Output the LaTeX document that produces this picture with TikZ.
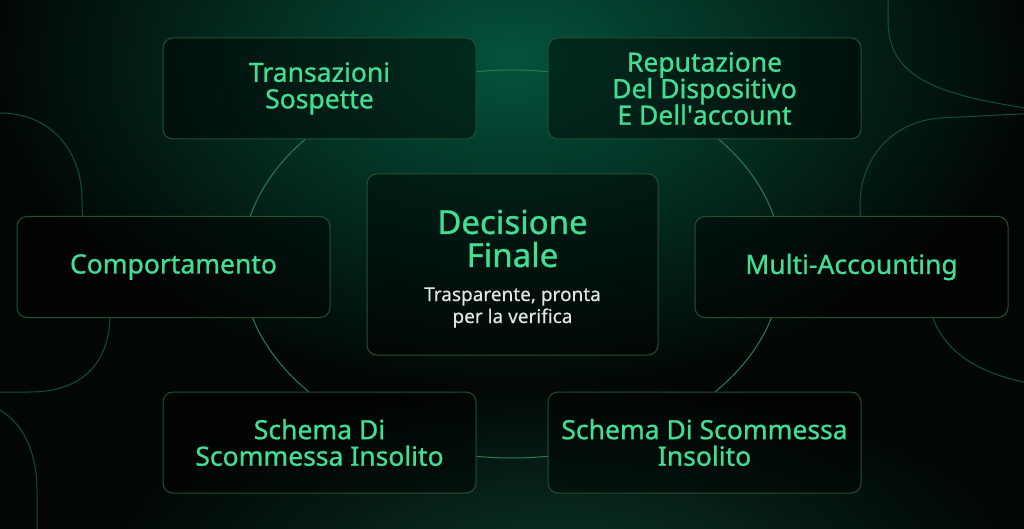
\documentclass[tikz,border=0pt]{standalone}
\usepackage{fontspec}
\setmainfont{Noto Sans}
\newfontfamily\cardfont{Noto Sans}[FakeBold=0.9]
\newfontfamily\subfont{Noto Sans}[FakeBold=0.3]
\usetikzlibrary{positioning,fadings}

\definecolor{bgdark}{HTML}{020705}
\definecolor{glowtop}{HTML}{05533D}
\definecolor{glowlow}{HTML}{0A3326}
\definecolor{mint}{HTML}{41DE93}
\definecolor{edge}{HTML}{22522F}
\definecolor{ring}{HTML}{2B7D52}
\definecolor{blob}{HTML}{145C40}
\definecolor{subtext}{HTML}{E4E6E5}
\tikzfading[name=glowfade, inner color=transparent!0, outer color=transparent!100]

\begin{document}
\begin{tikzpicture}[x=1pt, y=-1pt,
    card/.style = {draw=edge, line width=1pt, rounded corners=10pt, fill=black, fill opacity=0.45, text opacity=1,
        minimum width=313pt, minimum height=101pt, inner sep=0pt, align=center, text=mint,
        font=\cardfont\fontsize{26.5}{26.5}\selectfont},
    core/.style = {card, minimum width=291pt, minimum height=181pt},
    head/.style = {align=center, text=mint, inner sep=0pt, font=\cardfont\fontsize{33}{33}\selectfont},
    sub/.style = {align=center, text=subtext, inner sep=0pt, font=\subfont\fontsize{19}{22}\selectfont},
    blob/.style = {draw=blob, line width=1pt, opacity=0.85}]

    %Background and glow
    \useasboundingbox (0,0) rectangle (1024,529);
    \fill[bgdark] (0,0) rectangle (1024,529);
    \fill[glowtop, path fading=glowfade] (512,60) ellipse (520 and 330);
    \fill[glowlow, path fading=glowfade] (560,560) ellipse (450 and 180);

    %Centre card
    \node[core] (dec) at (512.5,264.5) {};
    \node[head] (dech) at ([yshift=26pt]dec.center) {Decisione\\Finale};
    \node[sub] (decs) at ([yshift=-43pt]dec.center) {Trasparente, pronta\\per la verifica};

    %Outer cards
    \node[card] (tr) at (319.5,88.5) {Transazioni\\Sospette};
    \node[card] (rep) [node distance=385pt, right of=tr] {Reputazione\\Del Dispositivo\\E Dell\textquotesingle account};
    \node[card] (comp) at (173.5,267) {Comportamento};
    \node[card] (multi) [node distance=678pt, right of=comp] {Multi-Accounting};
    \node[card] (schl) [node distance=354pt, below of=tr] {Schema Di\\Scommessa Insolito};
    \node[card] (schr) [node distance=385pt, right of=schl] {Schema Di Scommessa\\Insolito};

    %Ring and side shapes, hidden behind the cards
    \begin{scope}
        \clip (0,0) -- (1024,0) -- (1024,529) -- (0,529) -- cycle
            \foreach \b in {tr,rep,comp,dec,multi,schl,schr} {(\b.north west) -- (\b.south west) -- (\b.south east) -- (\b.north east) -- cycle};
        \draw[ring, line width=1pt] (512,264) ellipse (270 and 194); %Create ring
        \draw[blob] (-20,113) -- (0,113) .. controls (50,113) and (82,150) .. (82,200)
            .. controls (82,260) and (110,270) .. (110,318) .. controls (108,370) and (75,392) .. (30,392) -- (-20,392); %Left shape
        \draw[blob] (0,410) .. controls (25,425) and (37,455) .. (37,490) -- (37,540); %Lower left shape
        \draw[blob] (888,-10) -- (888,20) .. controls (888,75) and (930,95) .. (1040,110); %Upper right shape
        \draw[blob] (1040,113) -- (940,118) .. controls (890,122) and (860,160) .. (860,205)
            .. controls (860,290) and (925,300) .. (933,318) .. controls (945,350) and (975,375) .. (1040,385); %Right shape
    \end{scope}
\end{tikzpicture}
\end{document}
